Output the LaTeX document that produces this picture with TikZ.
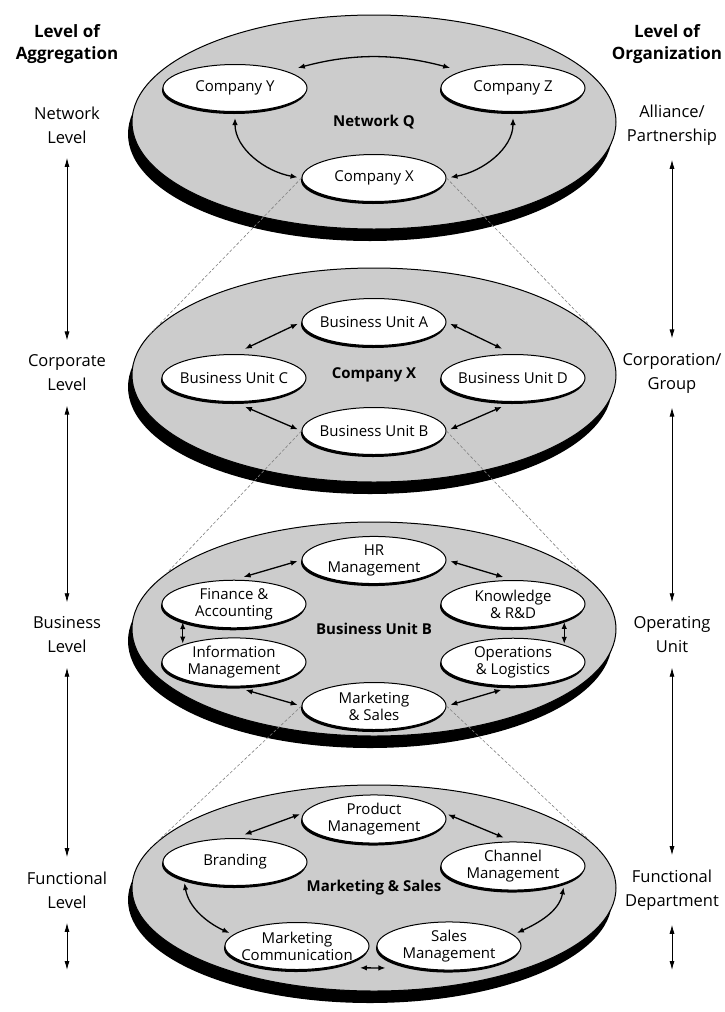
\documentclass[tikz,border=0pt]{standalone}
\usepackage{fontspec}
\setmainfont{Open Sans}
\usetikzlibrary{shapes.geometric,shadows,arrows.meta}
\tikzset{disc/.style={ellipse, draw=black, line width=1pt, fill=black!20, minimum width=484pt, minimum height=214pt, font=\bfseries\fontsize{15}{18}\selectfont, drop shadow={shadow xshift=-4pt, shadow yshift=-12pt, fill=black, opacity=1}},
  bunit/.style={ellipse, draw=black, line width=1pt, fill=white, minimum width=144pt, minimum height=47pt, inner xsep=-6pt, inner ysep=1pt, align=center, font=\fontsize{15}{17}\selectfont, drop shadow={shadow xshift=-1pt, shadow yshift=-2.5pt, fill=black, opacity=1}},
  link/.style={<->, >={Latex[length=7pt,width=5.5pt]}, line width=1.3pt, shorten <=4pt, shorten >=4pt},
  lvl/.style={<->, >={Latex[length=9pt,width=5pt]}, line width=0.8pt, shorten <=11pt, shorten >=11pt},
  lbl/.style={align=center, font=\fontsize{16.5}{24}\selectfont},
  head/.style={align=center, font=\bfseries\fontsize{17}{22}\selectfont},
  zoomline/.style={densely dashed, gray, line width=0.6pt}}

\begin{document}
\begin{tikzpicture}[x=1pt,y=1pt]
    \clip (0,0) rectangle (724,-1012);
    \node[head] (agg) at (67,-44) {Level of\\Aggregation};
    \node[head] (org) at (667,-44) {Level of\\Organization};
    \node[lbl] (nl) at (67,-125) {Network\\Level};
    \node[lbl] (cl) at (67,-373) {Corporate\\Level};
    \node[lbl] (bl) at (67,-635) {Business\\Level};
    \node[lbl] (fl) at (67,-890) {Functional\\Level};
    \coordinate (fle) at (67,-970);
    \node[lbl] (al) at (672,-125) {Alliance/\\Partnership};
    \node[lbl] (cg) at (672,-373) {Corporation/\\Group};
    \node[lbl] (ou) at (672,-635) {Operating\\Unit};
    \node[lbl] (fd) at (672,-890) {Functional\\Department};
    \coordinate (fde) at (672,-970);
    \draw[lvl] (nl) -- (cl);
    \draw[lvl] (cl) -- (bl);
    \draw[lvl] (bl) -- (fl);
    \draw[lvl, shorten >=0pt] (fl) -- (fle);
    \draw[lvl] (al) -- (cg);
    \draw[lvl] (cg) -- (ou);
    \draw[lvl] (ou) -- (fd);
    \draw[lvl, shorten >=0pt] (fd) -- (fde);

    \node[disc] (D1) at (374,-122) {Network Q};
    \node[bunit] (Y) at (235,-88) {Company Y};
    \node[bunit] (Z) at (513,-88) {Company Z};
    \node[bunit] (X) at (374,-178) {Company X};
    \draw[link, shorten <=12pt, shorten >=12pt] (Y.north east) to[bend left=15] (Z.north west);
    \draw[link, shorten <=6pt] (Y.south) to[out=-90,in=170] (X.west);
    \draw[link, shorten <=6pt] (Z.south) to[out=-90,in=10] (X.east);

    \node[disc] (D2) at (374,-375) {Company X};
    \node[bunit] (BA) at (374,-322) {Business Unit A};
    \node[bunit] (BC) at (234,-378) {Business Unit C};
    \node[bunit] (BD) at (513,-378) {Business Unit D};
    \node[bunit] (BB) at (374,-431) {Business Unit B};
    \draw[link, shorten >=12pt] (BA.west) -- (BC.north);
    \draw[link, shorten >=12pt] (BA.east) -- (BD.north);
    \draw[link, shorten <=12pt] (BC.south) -- (BB.west);
    \draw[link, shorten <=12pt] (BD.south) -- (BB.east);

    \node[disc] (D3) at (374,-629) {Business Unit B};
    \node[bunit] (HR) at (374,-560) {HR\\Management};
    \node[bunit] (FA) at (234,-604) {Finance \&\\Accounting};
    \node[bunit] (KR) at (513,-604) {Knowledge\\\& R\&D};
    \node[bunit] (IM) at (234,-662) {Information\\Management};
    \node[bunit] (OL) at (513,-662) {Operations\\\& Logistics};
    \node[bunit] (MS) at (374,-706) {Marketing\\\& Sales};
    \draw[link, shorten >=10pt] (HR.west) -- (FA.north);
    \draw[link, shorten >=10pt] (HR.east) -- (KR.north);
    \draw[link, shorten <=1pt, shorten >=1pt] (FA.south west) -- (IM.north west);
    \draw[link, shorten <=1pt, shorten >=1pt] (KR.south east) -- (OL.north east);
    \draw[link, shorten <=12pt] (IM.south) -- (MS.west);
    \draw[link, shorten <=12pt] (OL.south) -- (MS.east);

    \node[disc, minimum height=206pt] (D4) at (374,-888) {Marketing \& Sales};
    \node[bunit] (PM) at (374,-819) {Product\\Management};
    \node[bunit] (BR) at (235,-862) {Branding};
    \node[bunit] (CM) at (513,-866) {Channel\\Management};
    \node[bunit] (MC) at (297,-946) {Marketing\\Communication};
    \node[bunit] (SM) at (449,-946) {Sales\\Management};
    \draw[link, shorten >=10pt] (PM.175) -- (BR.north);
    \draw[link, shorten >=10pt] (PM.5) -- (CM.north);
    \draw[link] (BR.south west) to[out=-80,in=155] (MC.170);
    \draw[link] (CM.south east) to[out=-100,in=25] (SM.10);
    \draw[link, shorten <=32pt, shorten >=32pt] (MC.-35) -- (SM.215);

    \draw[zoomline] (X.west) -- (D2.170);
    \draw[zoomline] (X.east) -- (D2.10);
    \draw[zoomline] (BB.west) -- (D3.165);
    \draw[zoomline] (BB.east) -- (D3.15);
    \draw[zoomline] (MS.west) -- (D4.168);
    \draw[zoomline] (MS.east) -- (D4.12);
\end{tikzpicture}
\end{document}
